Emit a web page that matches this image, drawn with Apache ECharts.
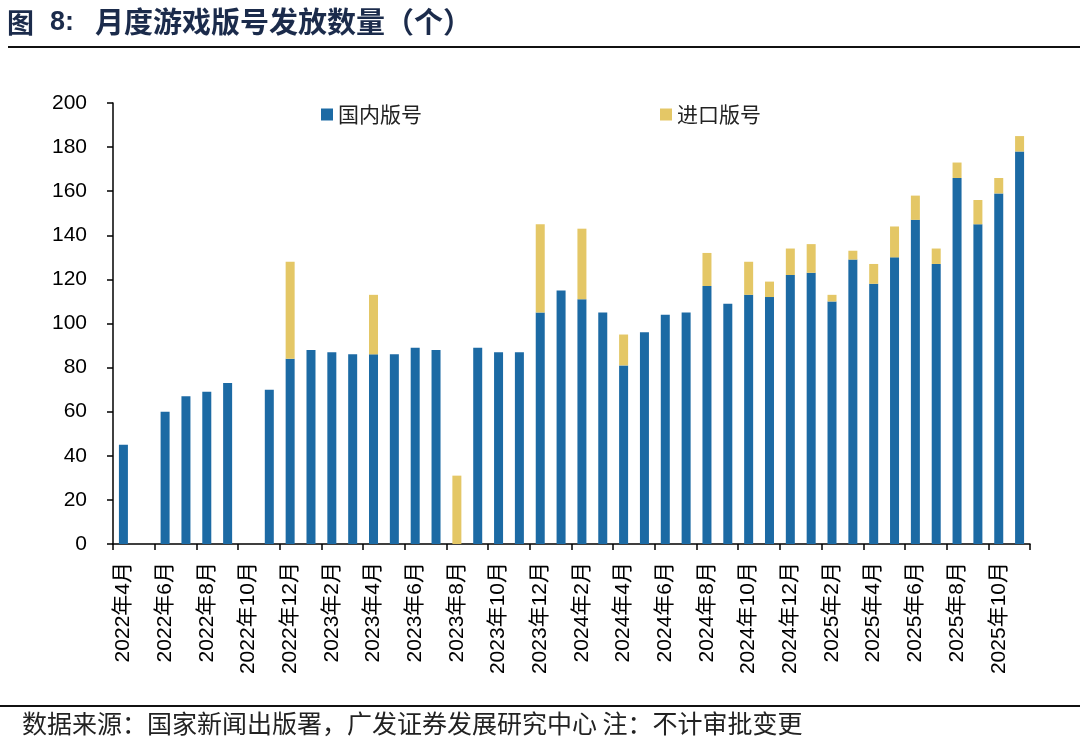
<!DOCTYPE html>
<html>
<head>
<meta charset="utf-8">
<script src="https://cdn.jsdelivr.net/npm/echarts@6/dist/echarts.min.js"></script>
<style>
html,body{margin:0;padding:0;background:#fff;}
#main{width:1080px;height:749px;}
</style>
</head>
<body>
<div id="main"></div>
<script>
var months = [
 '2022年4月','2022年5月','2022年6月','2022年7月','2022年8月','2022年9月','2022年10月','2022年11月','2022年12月',
 '2023年1月','2023年2月','2023年3月','2023年4月','2023年5月','2023年6月','2023年7月','2023年8月','2023年9月','2023年10月','2023年11月','2023年12月',
 '2024年1月','2024年2月','2024年3月','2024年4月','2024年5月','2024年6月','2024年7月','2024年8月','2024年9月','2024年10月','2024年11月','2024年12月',
 '2025年1月','2025年2月','2025年3月','2025年4月','2025年5月','2025年6月','2025年7月','2025年8月','2025年9月','2025年10月','2025年11月'
];
var domestic = [45,0,60,67,69,73,0,70,84, 88,87,86,86,86,89,88,0,89,87,87,105, 115,111,105,81,96,104,105,117,109,113,112,122, 123,110,129,118,130,147,127,166,145,159,178];
var imported = [0,0,0,0,0,0,0,0,44, 0,0,0,27,0,0,0,31,0,0,0,40, 0,32,0,14,0,0,0,15,0,15,7,12, 13,3,4,9,14,11,7,7,11,7,7];
var yTicks = [0,20,40,60,80,100,120,140,160,180,200];

var cjk = '"Noto Sans CJK SC", sans-serif';
var chart = echarts.init(document.getElementById('main'));
chart.setOption({
  animation:false,
  backgroundColor:'#fff',
  graphic:[
    {type:'text',left:7,top:9,style:{text:'图',font:'bold 27px '+cjk,fill:'#1b2b4b'}},
    {type:'text',left:50,top:9,style:{text:'8:',font:'bold 27px "Liberation Sans", Arial, sans-serif',fill:'#1b2b4b'}},
    {type:'text',left:95,top:7,style:{text:'月度游戏版号发放数量（个）',font:'bold 29px '+cjk,fill:'#1b2b4b'}},
    {type:'line',shape:{x1:8,y1:47,x2:1080,y2:47},style:{stroke:'#111',lineWidth:2}},
    {type:'line',shape:{x1:0,y1:706,x2:1080,y2:706},style:{stroke:'#111',lineWidth:2}},
    {type:'text',left:22,top:711,style:{text:'数据来源：国家新闻出版署，广发证券发展研究中心 注：不计审批变更',font:'25px '+cjk,fill:'#222'}}
  ],
  legend:{
    left:321, top:104, padding:0, itemWidth:12, itemHeight:12, itemGap:238,
    icon:'rect',
    textStyle:{fontSize:21,color:'#222',fontFamily:cjk},
    data:['国内版号','进口版号']
  },
  grid:{left:113,right:50,top:103,bottom:205},
  xAxis:{
    type:'category',
    data:months,
    boundaryGap:true,
    axisLine:{lineStyle:{color:'#000',width:1.5}},
    axisTick:{show:true,interval:1,length:6,lineStyle:{color:'#000',width:1.5}},
    axisLabel:{interval:1,rotate:90,margin:18,fontSize:21,color:'#000',fontFamily:'"Liberation Sans", Arial, "Noto Sans CJK SC", sans-serif'}
  },
  yAxis:{
    type:'value',
    min:yTicks[0], max:yTicks[yTicks.length-1], interval:20,
    splitLine:{show:false},
    axisLine:{show:true,lineStyle:{color:'#000',width:1.5}},
    axisTick:{show:true,length:6,lineStyle:{color:'#000',width:1.5}},
    axisLabel:{margin:26,fontSize:21,color:'#000',fontFamily:'"Liberation Sans", Arial, sans-serif'}
  },
  series:[
    {name:'国内版号',type:'bar',stack:'total',data:domestic,barWidth:9,itemStyle:{color:'#1c6aa4'}},
    {name:'进口版号',type:'bar',stack:'total',data:imported,barWidth:9,itemStyle:{color:'#e4c766'}}
  ]
});
</script>
</body>
</html>
